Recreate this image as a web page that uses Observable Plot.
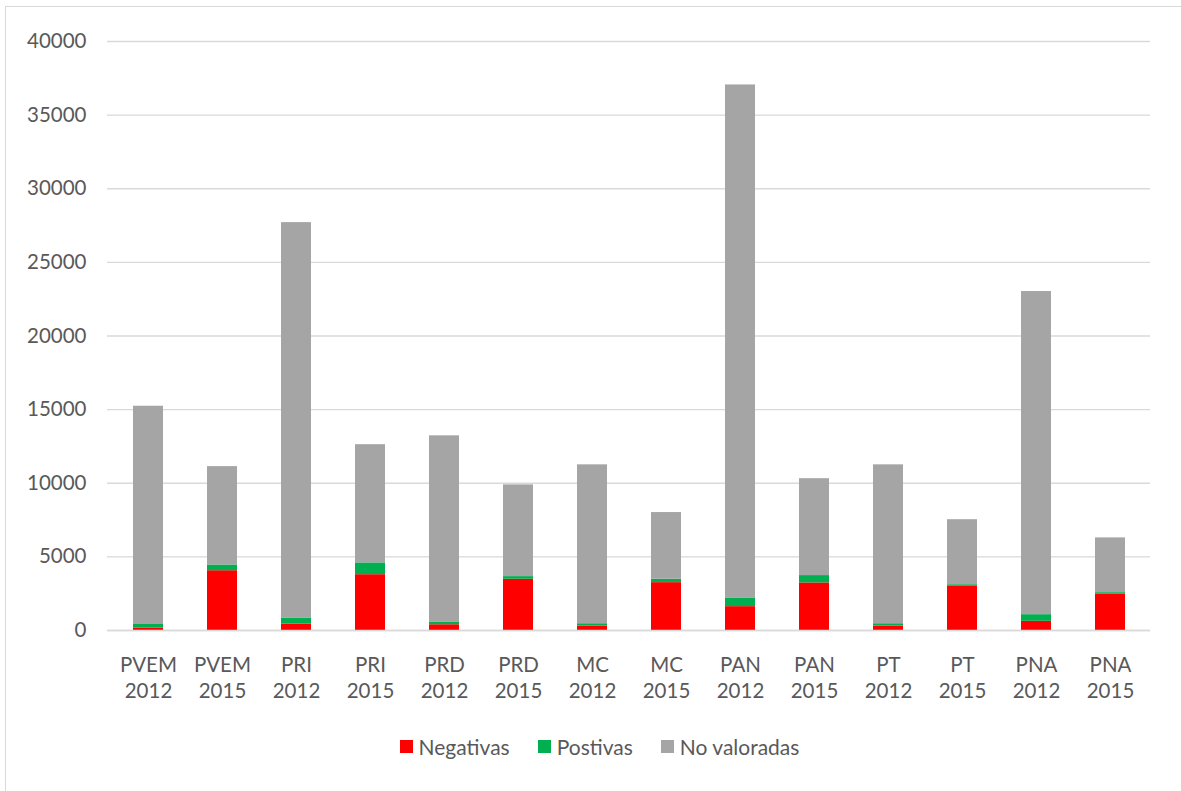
<!DOCTYPE html>
<html>
<head>
<meta charset="utf-8">
<script src="https://cdn.jsdelivr.net/npm/d3@7"></script>
<script src="https://cdn.jsdelivr.net/npm/@observablehq/plot@0.6"></script>
<style>
  body { margin: 0; background: #fff; font-family: Lato, "Open Sans", sans-serif; }
  #frame { position: absolute; left: 5px; top: 6px; width: 1180px; height: 790px; border: 1px solid #d9d9d9; box-sizing: border-box; }
  #chart { position: absolute; left: 0; top: 0; }
  #legend { position: absolute; left: 0; top: 734px; width: 1199px; display: flex; justify-content: center; align-items: center; font-size: 21px; color: #595959; font-family: Lato, sans-serif; }
  .item { display: flex; align-items: center; margin: 0 14px; }
  .sw { width: 13px; height: 13px; margin-right: 6px; }
</style>
</head>
<body>
<div id="frame"></div>
<div id="chart"></div>
<div id="legend"></div>
<script>
const parties = ["PVEM","PVEM","PRI","PRI","PRD","PRD","MC","MC","PAN","PAN","PT","PT","PNA","PNA"];
const years = ["2012","2015","2012","2015","2012","2015","2012","2015","2012","2015","2012","2015","2012","2015"];
const negativas = [170,4060,440,3790,390,3480,300,3250,1620,3230,300,3000,625,2460];
const positivas = [280,390,410,800,190,180,160,230,590,500,160,110,450,110];
const noValoradas = [14780,6680,26850,8030,12640,6230,10790,4530,34840,6580,10790,4415,21945,3720];
const series = ["Negativas","Postivas","No valoradas"];
const colors = ["#FF0000","#00B050","#A5A5A5"];
const yTicks = [0,5000,10000,15000,20000,25000,30000,35000,40000];

const categories = parties.map((p, i) => p + "\n" + years[i]);
const seriesValues = [negativas, positivas, noValoradas];
const rows = [];
categories.forEach((c, i) => {
  series.forEach((s, j) => rows.push({cat: c, serie: s, value: seriesValues[j][i]}));
});

const chart = Plot.plot({
  width: 1181,
  height: 720,
  marginLeft: 107,
  marginRight: 31,
  marginTop: 41,
  marginBottom: 90,
  style: {fontFamily: "Lato, sans-serif", fontSize: "20.5px", color: "#595959", background: "transparent"},
  x: {domain: categories, paddingInner: 0.6, paddingOuter: 0.3, label: null},
  y: {domain: [0, 40000], label: null},
  color: {domain: series, range: colors},
  marks: [
    Plot.gridY(yTicks, {stroke: "#d9d9d9", strokeOpacity: 1, strokeWidth: 1.3}),
    Plot.axisY(yTicks, {tickSize: 0, tickPadding: 21, fontSize: 20.5, fill: "#595959", label: null, tickFormat: d => String(d)}),
    Plot.axisX({tickSize: 0, tickPadding: 23, fontSize: 20.5, fill: "#595959", lineHeight: 1.27, label: null}),
    Plot.barY(rows, Plot.stackY({x: "cat", y: "value", z: "serie", fill: "serie"})),
    Plot.ruleY([0], {stroke: "#d9d9d9", strokeWidth: 1.3})
  ]
});
document.getElementById("chart").appendChild(chart);

const legend = document.getElementById("legend");
series.forEach((s, i) => {
  const item = document.createElement("div");
  item.className = "item";
  const sw = document.createElement("div");
  sw.className = "sw";
  sw.style.background = colors[i];
  const t = document.createElement("span");
  t.textContent = s;
  item.appendChild(sw);
  item.appendChild(t);
  legend.appendChild(item);
});
</script>
</body>
</html>
